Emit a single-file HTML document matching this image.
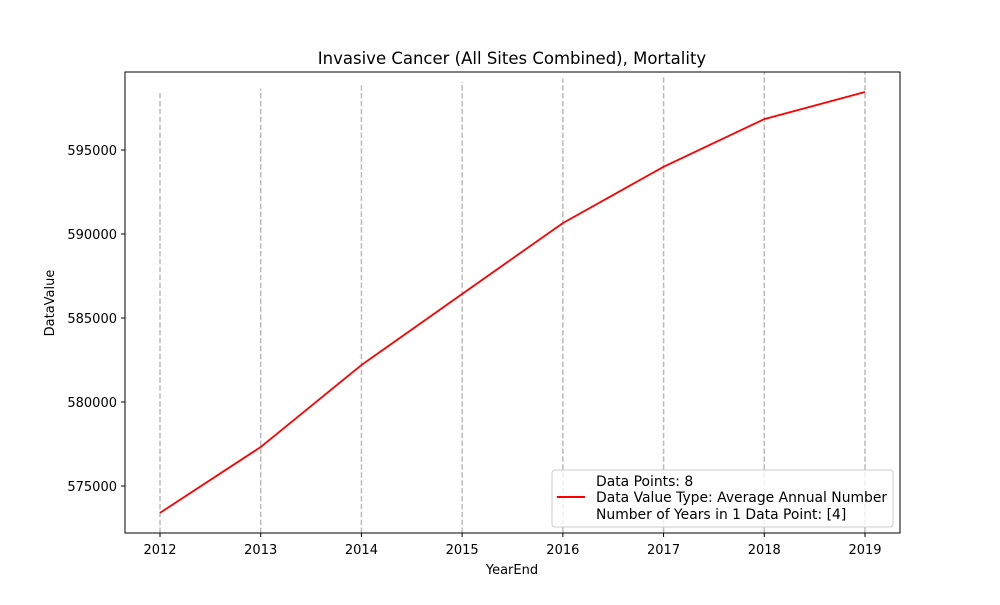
<!DOCTYPE html>
<html><head><meta charset="utf-8"><style>
body{margin:0;background:#fff;}
svg text{font-family:"DejaVu Sans","Liberation Sans",sans-serif;}
</style></head><body>
<svg id="chart" width="1000" height="600" xmlns="http://www.w3.org/2000/svg">
<rect width="1000" height="600" fill="#fff"/>
<text x="512" y="64" font-size="16.5" text-anchor="middle">Invasive Cancer (All Sites Combined), Mortality</text>
<g id="grid"></g>
<g id="plot"></g>
<rect x="125" y="72" width="775" height="461" fill="none" stroke="#000" stroke-width="1"/>
<g id="xt"></g><g id="yt"></g>
<text x="512" y="574" font-size="13" text-anchor="middle">YearEnd</text>
<text transform="translate(54,303) rotate(-90)" font-size="13" text-anchor="middle">DataValue</text>
<g>
<rect x="552" y="470" width="341" height="57" rx="3" fill="#fff" fill-opacity="0.8" stroke="#ccc"/>
<line x1="557" y1="497" x2="585" y2="497" stroke="red" stroke-width="2"/>
<text x="596" y="486" font-size="13.9">Data Points: 8</text>
<text x="596" y="502" font-size="13.9">Data Value Type: Average Annual Number</text>
<text x="596" y="519" font-size="13.9">Number of Years in 1 Data Point: [4]</text>
</g>
</svg>
<script>
const years=[2012,2013,2014,2015,2016,2017,2018,2019];
const values=[573400,577320,582200,586430,590650,594000,596840,598450];
const yTicks=[575000,580000,585000,590000,595000];
const vlineTops=[598450,598650,598850,599050,599250,599450,599650,599650];
const NS="http://www.w3.org/2000/svg";
const xs=y=>160+(y-2012)*(865-160)/7;
const ys=v=>486-(v-575000)*84/5000;
const grid=document.getElementById('grid'),plot=document.getElementById('plot'),xt=document.getElementById('xt'),yt=document.getElementById('yt');
function mk(t,a){const e=document.createElementNS(NS,t);for(const k in a)e.setAttribute(k,a[k]);return e;}
years.forEach((y,i)=>{
 const top=Math.max(72,ys(vlineTops[i]));
 const l=mk('line',{x1:xs(y),x2:xs(y),y1:533,y2:top,stroke:'#bbb','stroke-width':1.5,'stroke-dasharray':'5.5 2.4'});
 
 
 grid.appendChild(l);
 const t=mk('line',{x1:xs(y),x2:xs(y),y1:533,y2:537,stroke:'#000'});
 
 
 xt.appendChild(t);
 const tx=mk('text',{x:xs(y),y:554,'font-size':13,'text-anchor':'middle'});tx.textContent=y;
 
 
 xt.appendChild(tx);
});
yTicks.forEach(v=>{
 const t=mk('line',{x1:121,x2:125,y1:ys(v),y2:ys(v),stroke:'#000'});
 
 
 yt.appendChild(t);
 const tx=mk('text',{x:117,y:ys(v)+5,'font-size':13,'text-anchor':'end'});tx.textContent=v;
 
 
 yt.appendChild(tx);
});
const p=mk('polyline',{points:years.map((y,i)=>xs(y)+','+ys(values[i])).join(' '),fill:'none',stroke:'red','stroke-width':1.8});


plot.appendChild(p);
</script>
</body></html>
